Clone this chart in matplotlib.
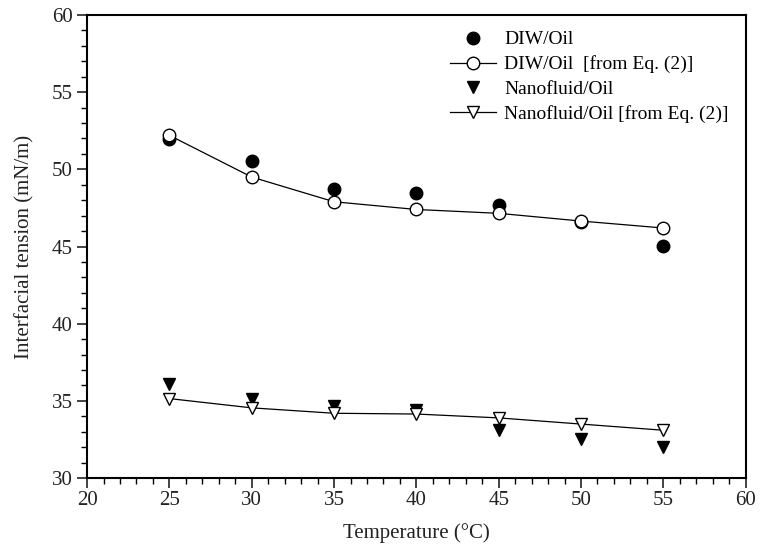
import numpy as np
import matplotlib
matplotlib.use('Agg')
import matplotlib.pyplot as plt
from matplotlib.ticker import MultipleLocator

plt.rcParams['font.family'] = 'Liberation Serif'

temp = [25, 30, 35, 40, 45, 50, 55]
diw_meas = [51.95, 50.55, 48.7, 48.45, 47.7, 46.6, 45.05]
diw_eq = [52.2, 49.5, 47.9, 47.4, 47.15, 46.65, 46.2]
nano_meas = [36.1, 35.1, 34.7, 34.4, 33.1, 32.55, 32.0]
nano_eq = [35.15, 34.55, 34.2, 34.15, 33.9, 33.5, 33.1]

fig = plt.figure(figsize=(7.64, 5.54), dpi=100)
ax = fig.add_axes([0.114, 0.137, 0.862, 0.836])

ax.plot(temp, diw_meas, 'o', color='black', markersize=9, linestyle='none', label='DIW/Oil')
ax.plot(temp, diw_eq, '-o', color='black', mfc='white', mec='black', markersize=9,
        lw=0.9, mew=1.0, label='DIW/Oil  [from Eq. (2)]')
ax.plot(temp, nano_meas, 'v', color='black', markersize=9, linestyle='none', label='Nanofluid/Oil')
ax.plot(temp, nano_eq, '-v', color='black', mfc='white', mec='black', markersize=9,
        lw=0.9, mew=1.0, label='Nanofluid/Oil [from Eq. (2)]')

ax.set_xlim(20, 60)
ax.set_ylim(30, 60)
ax.xaxis.set_major_locator(MultipleLocator(5))
ax.xaxis.set_minor_locator(MultipleLocator(1))
ax.yaxis.set_major_locator(MultipleLocator(5))
ax.yaxis.set_minor_locator(MultipleLocator(1))
ax.tick_params(which='major', direction='out', length=7, width=1.2, labelsize=15, colors='#222222')
ax.tick_params(which='minor', direction='out', length=4, width=1.0)
ax.tick_params(axis='x', pad=2)
for s in ax.spines.values():
    s.set_linewidth(1.5)

ax.set_xlabel('Temperature (°C)', fontsize=15, color='#222222', labelpad=10)
ax.set_ylabel('Interfacial tension (mN/m)', fontsize=15, color='#222222', labelpad=12)

ax.legend(loc='upper right', bbox_to_anchor=(0.995, 0.995), frameon=False, fontsize=14,
          handlelength=2.4, handletextpad=0.4, labelspacing=0.36, borderaxespad=0.3)

fig.savefig('out.png', dpi=100)
